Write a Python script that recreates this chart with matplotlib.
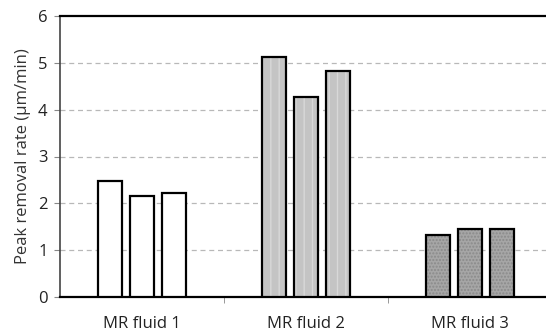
import numpy as np
import matplotlib.pyplot as plt

plt.rcParams['font.family'] = ['Open Sans', 'DejaVu Sans']

categories = ['MR fluid 1', 'MR fluid 2', 'MR fluid 3']
fluid1 = [2.48, 2.16, 2.22]
fluid2 = [5.13, 4.27, 4.83]
fluid3 = [1.32, 1.45, 1.46]
groups = [fluid1, fluid2, fluid3]

fills = ['white', '#c4c4c4', '#a6a6a6']
hatch_colors = [None, '#d8d8d8', '#8a8a8a']
hatches = [None, '||', '.....']

fig = plt.figure(figsize=(5.46, 3.34), dpi=100)
ax = fig.add_axes([60 / 546, 37 / 334, 492 / 546, 281 / 334])

width = 0.152
offsets = [-0.195, 0, 0.195]
for i, vals in enumerate(groups):
    xs = i + np.array(offsets)
    if hatches[i]:
        ax.bar(xs, vals, width, color=fills[i], edgecolor=hatch_colors[i],
               hatch=hatches[i], linewidth=0, zorder=3)
    else:
        ax.bar(xs, vals, width, color=fills[i], linewidth=0, zorder=3)
    ax.bar(xs, vals, width, fill=False, edgecolor='black', linewidth=1.6, zorder=4)

ax.set_xlim(-0.5, 2.5)
ax.set_ylim(0, 6)
ax.set_yticks(range(7))
ax.set_xticks(range(3))
ax.set_xticklabels(categories)
ax.set_xticks([0.5, 1.5], minor=True)
ax.tick_params(axis='x', which='major', length=0, pad=14, labelsize=12, colors='#222222')
ax.tick_params(axis='x', which='minor', length=4, color='#888888')
ax.tick_params(axis='y', length=4, color='#888888', labelsize=12, labelcolor='#222222', pad=5)

for y in range(1, 6):
    ax.axhline(y, color='#b8b8b8', linestyle=(0, (4, 3)), linewidth=0.9, zorder=1)

for side in ['top', 'left', 'bottom', 'right']:
    ax.spines[side].set_linewidth(1.6)
    ax.spines[side].set_color('black')
ax.spines['left'].set_linewidth(1.2)
ax.spines['left'].set_color('#444444')

ax.set_ylabel('Peak removal rate (µm/min)', fontsize=12, color='#333333', labelpad=5)

fig.savefig('out.png', dpi=100, facecolor='white')
